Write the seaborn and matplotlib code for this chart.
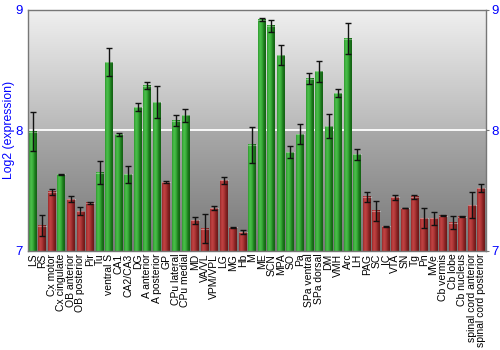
import numpy as np
import pandas as pd
import matplotlib
matplotlib.use("Agg")
import matplotlib.pyplot as plt
from matplotlib.colors import LinearSegmentedColormap
import seaborn as sns

regions = ["LS", "RS", "Cx motor", "Cx cingulate", "OB anterior", "OB posterior", "Pir", "Tu",
           "ventral S", "CA1", "CA2/CA3", "DG", "A anterior", "A posterior", "GP", "CPu lateral",
           "CPu medial", "MD", "VA/VL", "VPM/VPL", "LG", "MG", "Hb", "M", "ME", "SCN", "MPA", "SO",
           "Pa", "SPa ventral", "SPa dorsal", "DM", "VMH", "Arc", "LH", "PAG", "SC", "IC", "VTA",
           "SN", "Tg", "Pn", "MVe", "Cb vermis", "Cb lobe", "Cb nucleus", "spinal cord anterior",
           "spinal cord posterior"]
expression = [7.99, 7.21, 7.49, 7.635, 7.43, 7.33, 7.40, 7.65,
              8.566, 7.967, 7.635, 8.19, 8.37, 8.235, 7.57, 8.08,
              8.124, 7.254, 7.185, 7.356, 7.586, 7.196, 7.157, 7.88, 8.917, 8.867, 8.624, 7.82,
              7.967, 8.43, 8.49, 8.036, 8.31, 8.76, 7.80, 7.45, 7.334, 7.204, 7.445,
              7.356, 7.45, 7.273, 7.273, 7.293, 7.235, 7.285, 7.38,
              7.52]
error = [0.16, 0.085, 0.025, 0.005, 0.025, 0.035, 0.01, 0.095,
         0.115, 0.01, 0.07, 0.033, 0.03, 0.13, 0.01, 0.047,
         0.055, 0.028, 0.12, 0.02, 0.03, 0.005, 0.02, 0.148, 0.014, 0.05, 0.085, 0.048,
         0.084, 0.048, 0.086, 0.10, 0.033, 0.13, 0.043, 0.043, 0.083, 0.005, 0.02,
         0.003, 0.018, 0.085, 0.054, 0.005, 0.055, 0.005, 0.106,
         0.035]
threshold = 7.6
y_min, y_max = 7, 9

df = pd.DataFrame({"region": regions, "expr": expression, "err": error})
df["level"] = np.where(df["expr"] > threshold, "high", "low")

plt.rcParams["font.family"] = ["Liberation Sans", "DejaVu Sans"]

fig = plt.figure(figsize=(5, 3.5), dpi=100)
ax = fig.add_axes([0.056, 0.283, 0.916, 0.689])

palette = {"high": "#2e9e2e", "low": "#a83232"}
sns.barplot(data=df, x="region", y="expr", hue="level", palette=palette, dodge=False,
            width=0.82, legend=False, errorbar=None, ax=ax, zorder=2)

n = len(regions)

# grey background: light at the top, darker below the 8 line
bg_top = LinearSegmentedColormap.from_list("bgt", ["#b8b8b8", "#f0f0f0"])
bg_bot = LinearSegmentedColormap.from_list("bgb", ["#777777", "#a9a9a9"])
grad = np.linspace(0, 1, 256).reshape(-1, 1)
ax.imshow(grad, cmap=bg_top, aspect="auto", origin="lower",
          extent=(-0.5, n - 0.5, 8, y_max), zorder=0)
ax.imshow(grad, cmap=bg_bot, aspect="auto", origin="lower",
          extent=(-0.5, n - 0.5, y_min, 8), zorder=0)
ax.axhline(8, color="white", lw=1.3, zorder=1)

# horizontal shading inside each bar, over the visible part of the bar
green_map = LinearSegmentedColormap.from_list("g", ["#2f9a2f", "#4cbf4c", "#3aae3a", "#1c7a1c", "#145f14"])
red_map = LinearSegmentedColormap.from_list("r", ["#9a2a2a", "#c24444", "#b03838", "#862222", "#6a1818"])
hgrad = np.linspace(0, 1, 64).reshape(1, -1)
for patch in list(ax.patches):
    x0, w, top = patch.get_x(), patch.get_width(), patch.get_y() + patch.get_height()
    if w <= 0 or top <= y_min:
        continue
    fc = patch.get_facecolor()
    cmap = green_map if fc[1] > fc[0] else red_map
    ax.imshow(hgrad, cmap=cmap, aspect="auto", extent=(x0, x0 + w, y_min, top), zorder=2.5)
    patch.set_visible(False)
    ax.plot([x0, x0 + w], [top, top], color="#ffffff", alpha=0.35, lw=0.8, zorder=2.6)

ax.errorbar(np.arange(n), df["expr"], yerr=df["err"], fmt="none",
            ecolor="#111111", elinewidth=1.0, capsize=2.2, capthick=1.0, zorder=3)

ax.set_xlim(-0.5, n - 0.5)
ax.set_ylim(y_min, y_max)
ax.set_yticks([7, 8, 9])
ax.set_yticklabels(["7", "8", "9"])
ax.tick_params(axis="y", colors="#777777", labelcolor="blue", labelsize=9.5,
               left=False, right=True, labelleft=True, labelright=True, pad=2, length=2)
ax.tick_params(axis="x", length=0, labelsize=7.5, rotation=90, pad=2)
ax.set_xlabel("")
ax.set_ylabel("Log2 (expression)", color="blue", fontsize=8.8)
ax.yaxis.set_label_coords(-0.028, 0.5)
for side in ["left", "right", "top", "bottom"]:
    ax.spines[side].set_color("#777777")
    ax.spines[side].set_linewidth(1.0)

fig.savefig("out.png", dpi=100)
